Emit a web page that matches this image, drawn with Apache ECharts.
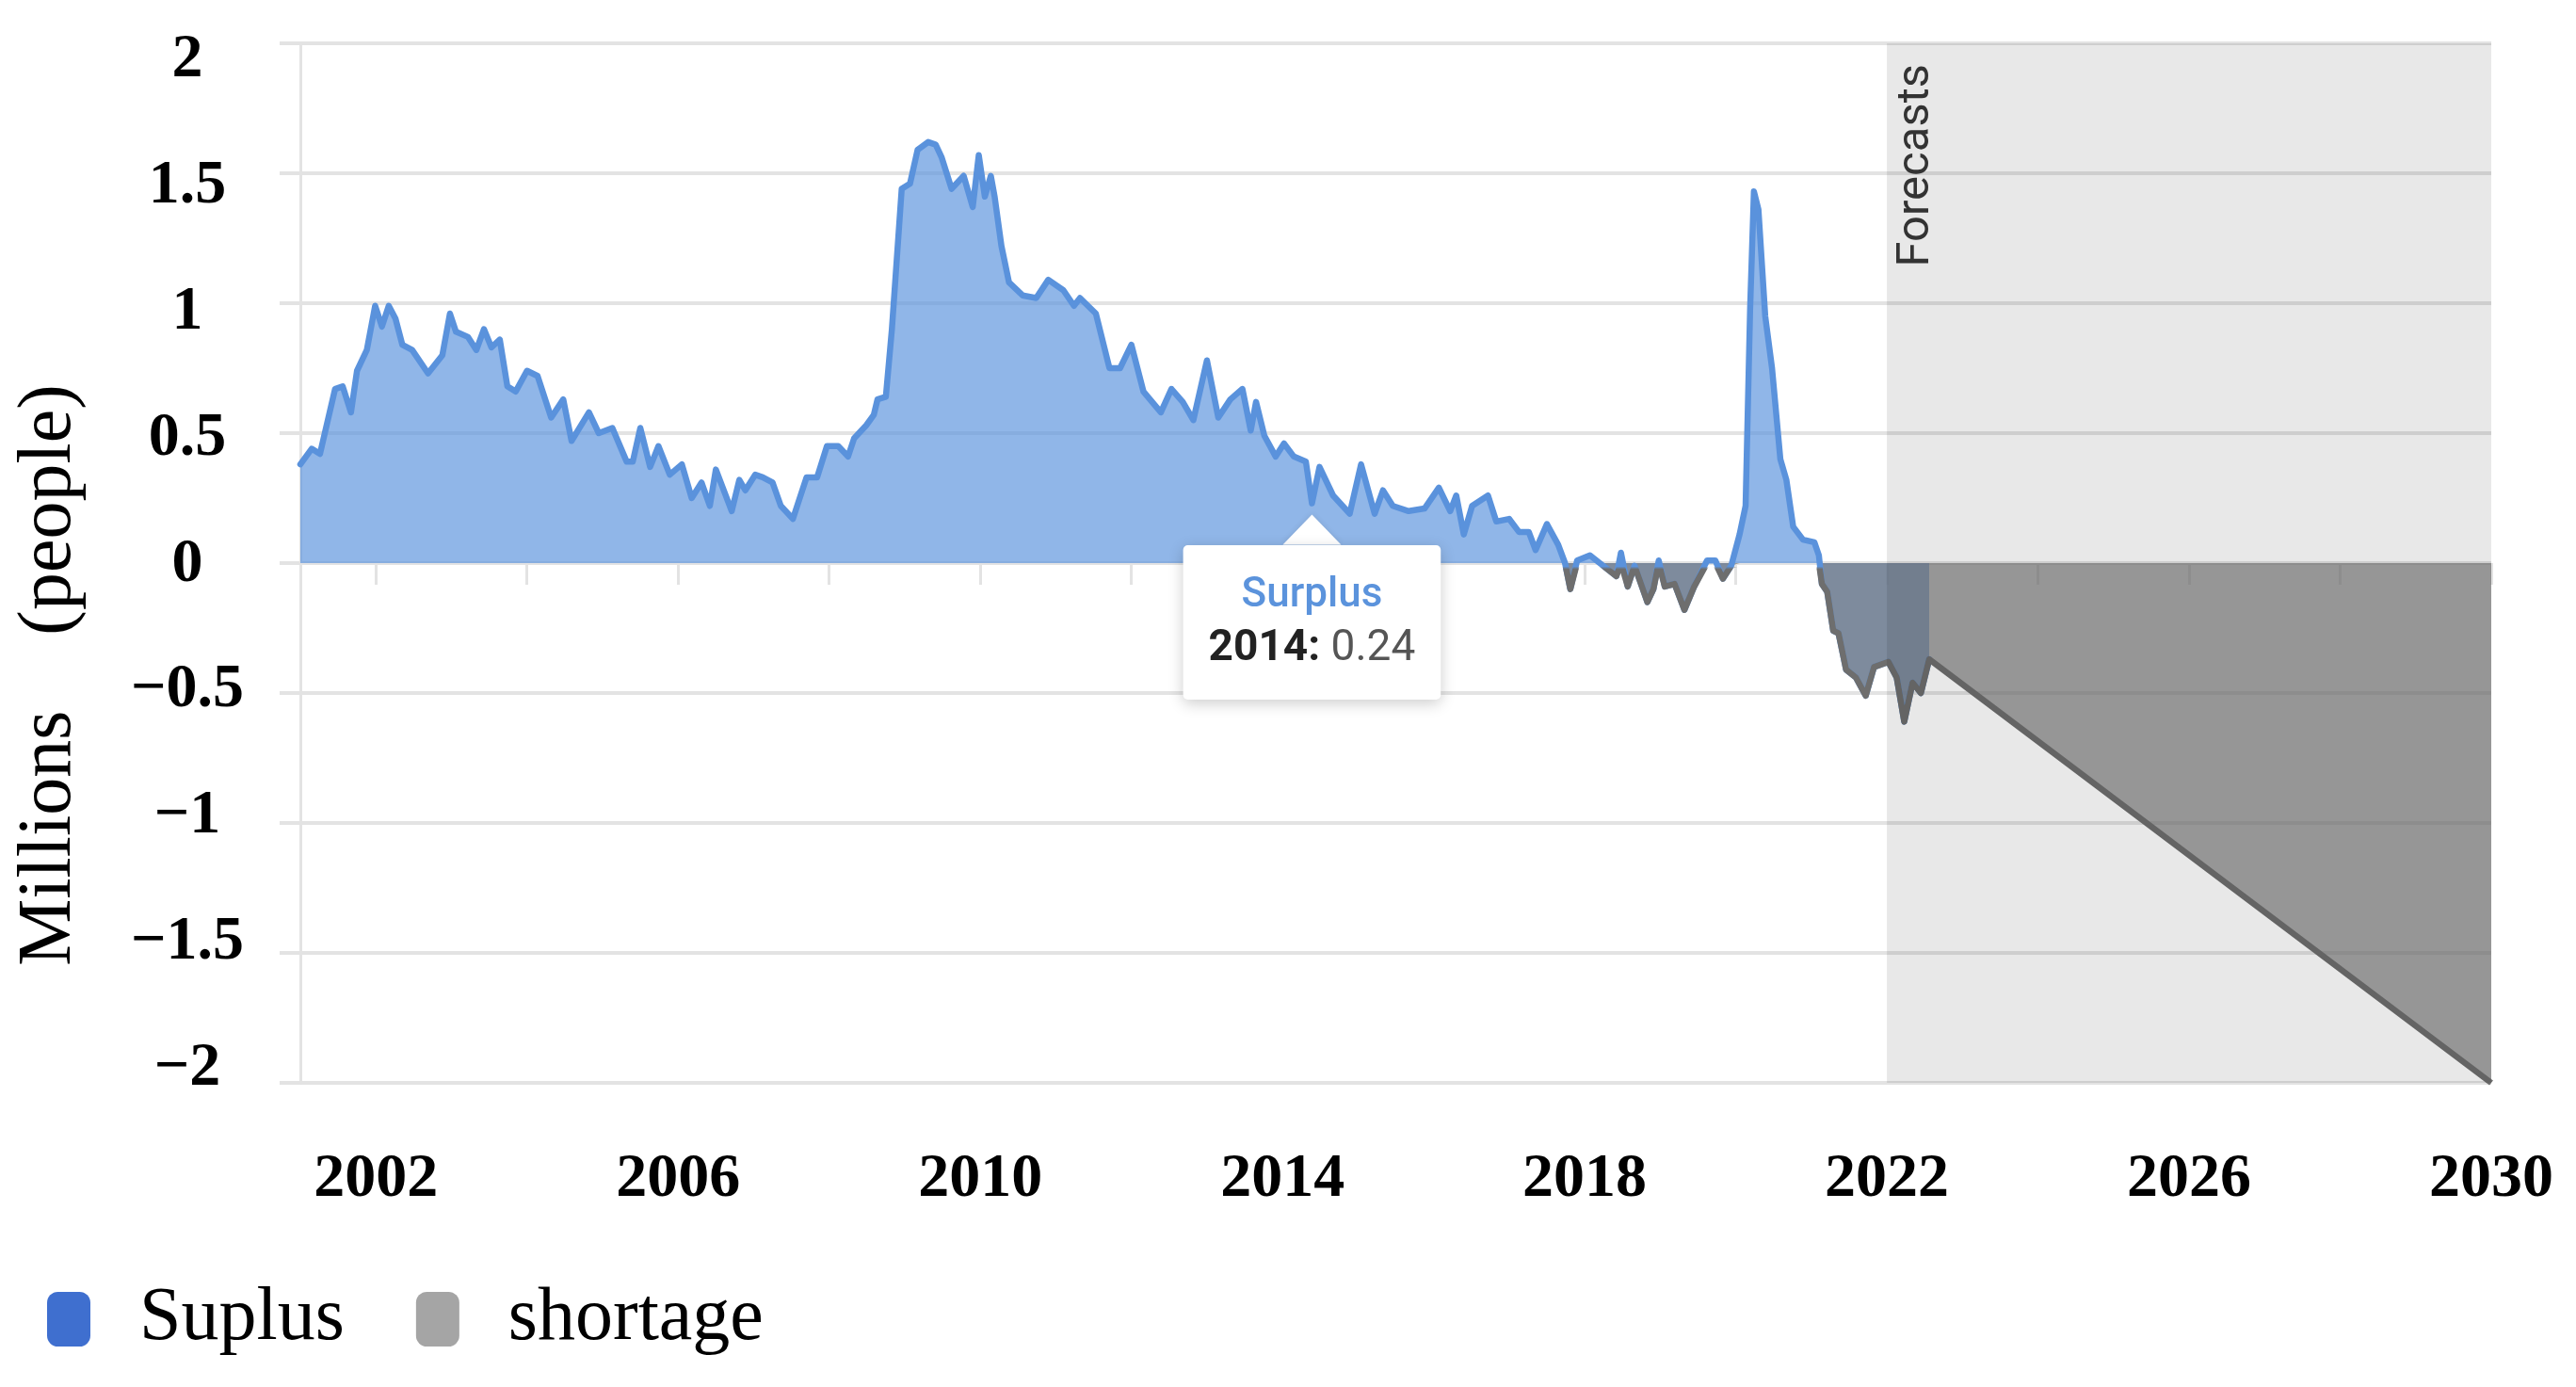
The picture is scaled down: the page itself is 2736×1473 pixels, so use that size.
<!DOCTYPE html>
<html>
<head>
<meta charset="utf-8">
<script src="https://cdn.jsdelivr.net/npm/echarts@6/dist/echarts.min.js"></script>
<style>
html,body{margin:0;padding:0;background:#ffffff;}
#chart{width:2736px;height:1473px;}
</style>
</head>
<body>
<div id="chart"></div>
<script>
// ---------- DATA ----------
const years = [
  2001.00,2001.15,2001.26,2001.46,2001.56,2001.67,2001.75,2001.88,2001.99,2002.08,
  2002.17,2002.26,2002.35,2002.48,2002.69,2002.88,2002.98,2003.06,2003.22,2003.33,
  2003.43,2003.53,2003.64,2003.74,2003.85,2004.00,2004.14,2004.32,2004.48,2004.59,
  2004.82,2004.95,2005.13,2005.32,2005.40,2005.50,2005.63,2005.74,2005.89,2006.05,
  2006.18,2006.31,2006.42,2006.50,2006.71,2006.81,2006.89,2007.02,2007.12,2007.25,
  2007.36,2007.52,2007.70,2007.84,2007.97,2008.12,2008.25,2008.33,2008.49,2008.59,
  2008.64,2008.75,2008.83,2008.96,2009.07,2009.17,2009.31,2009.41,2009.49,2009.62,
  2009.78,2009.90,2009.98,2010.06,2010.14,2010.19,2010.28,2010.38,2010.56,2010.74,
  2010.90,2011.10,2011.24,2011.32,2011.53,2011.71,2011.85,2012.00,2012.16,2012.39,
  2012.53,2012.68,2012.82,2013.00,2013.15,2013.31,2013.47,2013.58,2013.65,2013.76,
  2013.91,2014.02,2014.15,2014.31,2014.39,2014.49,2014.67,2014.89,2015.04,2015.22,
  2015.33,2015.46,2015.67,2015.88,2016.07,2016.22,2016.30,2016.40,2016.51,2016.72,
  2016.83,2017.00,2017.13,2017.26,2017.35,2017.50,2017.65,2017.74,2017.81,2017.90,
  2018.07,2018.20,2018.33,2018.42,2018.48,2018.57,2018.66,2018.83,2018.91,2018.98,
  2019.06,2019.19,2019.32,2019.45,2019.62,2019.73,2019.83,2019.94,2020.05,2020.13,
  2020.19,2020.24,2020.30,2020.39,2020.48,2020.59,2020.67,2020.76,2020.89,2021.04,
  2021.10,2021.14,2021.21,2021.29,2021.36,2021.46,2021.59,2021.72,2021.83,2022.02,
  2022.13,2022.23,2022.34,2022.45,2022.56
];
const values = [
  0.38,0.44,0.42,0.67,0.68,0.58,0.74,0.82,0.99,0.91,
  0.99,0.94,0.84,0.82,0.73,0.80,0.96,0.89,0.87,0.82,
  0.90,0.83,0.86,0.68,0.66,0.74,0.72,0.56,0.63,0.47,
  0.58,0.50,0.52,0.39,0.39,0.52,0.37,0.45,0.34,0.38,
  0.25,0.31,0.22,0.36,0.20,0.32,0.28,0.34,0.33,0.31,
  0.22,0.17,0.33,0.33,0.45,0.45,0.41,0.48,0.53,0.57,
  0.63,0.64,0.90,1.44,1.46,1.59,1.62,1.61,1.56,1.44,
  1.49,1.37,1.57,1.41,1.49,1.41,1.22,1.08,1.03,1.02,
  1.09,1.05,0.99,1.02,0.96,0.75,0.75,0.84,0.66,0.58,
  0.67,0.62,0.55,0.78,0.56,0.63,0.67,0.51,0.62,0.49,
  0.41,0.46,0.41,0.39,0.23,0.37,0.26,0.19,0.38,0.19,
  0.28,0.22,0.20,0.21,0.29,0.20,0.26,0.11,0.22,0.26,
  0.16,0.17,0.12,0.12,0.05,0.15,0.07,0.00,-0.10,0.01,
  0.03,0.00,-0.03,-0.05,0.04,-0.09,-0.01,-0.15,-0.10,0.01,
  -0.09,-0.08,-0.18,-0.09,0.01,0.01,-0.06,-0.01,0.11,0.22,
  0.98,1.43,1.36,0.95,0.75,0.40,0.32,0.14,0.09,0.08,
  0.03,-0.08,-0.11,-0.26,-0.27,-0.41,-0.44,-0.51,-0.40,-0.38,
  -0.44,-0.61,-0.46,-0.50,-0.37
];
const forecastYears = [2022.56, 2030];
const forecastValues = [-0.37, -2.0];
const shortageFromYear = 2017.6;

const forecastStart = 2022;
const forecastEnd = 2030;

const xTickYears = [2002,2004,2006,2008,2010,2012,2014,2016,2018,2020,2022,2024,2026,2028,2030];
const xLabelYears = [2002,2006,2010,2014,2018,2022,2026,2030];
const yTickValues = [-2,-1.5,-1,-0.5,0,0.5,1,1.5,2];
const yTickLabels = ['\u22122','\u22121.5','\u22121','\u22120.5','0','0.5','1','1.5','2'];

const seriesNames = ['Suplus','shortage'];
const yAxisTitle = 'Millions    (people)';
const bandTitle = 'Forecasts';

const tipSeries = 'Surplus';
const tipYear = 2014;
const tipValue = 0.24;
const tipIndex = years.indexOf(2014.39);

// ---------- BUILD ----------
const surplusData = years.map((y, i) => [y, values[i]]);
const shortageData = years
  .map((y, i) => [y, Math.min(values[i], 0)])
  .filter(d => d[0] >= shortageFromYear)
  .concat(forecastYears.map((y, i) => [y, forecastValues[i]]));

const GRID_C = '#e3e3e3';
const SERIF = '"Liberation Serif", "DejaVu Serif", serif';
const SANS = 'Roboto, "Liberation Sans", sans-serif';
const SHORT_LINE = '#6e6e6e';

const chart = echarts.init(document.getElementById('chart'), null, {renderer: 'canvas'});

const option = {
  animation: false,
  backgroundColor: '#ffffff',
  grid: {left: 319, right: 90, top: 46, bottom: 323, containLabel: false, outerBoundsMode: 'none'},
  xAxis: {
    type: 'value', min: 2001, max: 2030,
    axisLine: {show: false},
    splitLine: {show: false},
    axisTick: {show: true, customValues: xTickYears, length: 23, lineStyle: {color: GRID_C, width: 3}},
    axisLabel: {
      customValues: xLabelYears, margin: 70,
      fontFamily: SERIF, fontWeight: 'bold', fontSize: 66, color: '#000',
      formatter: v => String(v)
    }
  },
  yAxis: [
    {
      type: 'value', min: -2, max: 2, interval: 0.5,
      axisLine: {show: true, lineStyle: {color: GRID_C, width: 3}},
      axisTick: {show: true, length: 22, lineStyle: {color: GRID_C, width: 4}},
      axisLabel: {show: false},
      splitLine: {show: true, lineStyle: {color: GRID_C, width: 4}}
    },
    {
      type: 'value', min: -2.056, max: 2.067, position: 'left',
      axisLine: {show: false}, axisTick: {show: false}, splitLine: {show: false},
      axisLabel: {
        customValues: yTickValues, align: 'center', margin: 120,
        fontFamily: SERIF, fontWeight: 'bold', fontSize: 66, color: '#000',
        formatter: v => {
          const k = yTickValues.findIndex(t => Math.abs(t - v) < 1e-9);
          return k >= 0 ? yTickLabels[k] : String(v);
        }
      }
    }
  ],
  legend: {
    left: 45, top: 1356, itemWidth: 46, itemHeight: 58, itemGap: 76,
    icon: 'roundRect',
    textStyle: {fontFamily: SERIF, fontSize: 80, color: '#000', padding: [0, 0, 0, 47]},
    data: [
      {name: seriesNames[0], itemStyle: {color: '#3f6fcf', borderWidth: 0}},
      {name: seriesNames[1], itemStyle: {color: '#a5a5a5', borderWidth: 0}}
    ]
  },
  series: [
    {
      name: seriesNames[0], type: 'line', yAxisIndex: 0,
      data: surplusData, symbol: 'none', showSymbol: false, z: 2,
      lineStyle: {color: '#5a92dc', width: 6.5, join: 'round', cap: 'round'},
      itemStyle: {color: '#5a92dc'},
      areaStyle: {color: '#5a92dc', opacity: 0.67},
      markArea: {
        silent: true, z: 3,
        itemStyle: {color: 'rgba(0,0,0,0.09)'},
        label: {show: false},
        data: [[{xAxis: forecastStart}, {xAxis: forecastEnd}]]
      }
    },
    {
      name: seriesNames[1], type: 'line', yAxisIndex: 0,
      data: shortageData, symbol: 'none', showSymbol: false, z: 2,
      lineStyle: {width: 6.5, color: SHORT_LINE, join: 'round'},
      itemStyle: {color: '#a5a5a5'},
      areaStyle: {color: 'rgb(117,117,117)', opacity: 0.65},
      markPoint: {
        silent: true, z: 20,
        data: [
          {
            coord: [years[tipIndex], values[tipIndex]],
            symbol: 'triangle', symbolSize: [62, 32], symbolOffset: [0, 28],
            itemStyle: {color: '#ffffff', shadowBlur: 6, shadowColor: 'rgba(0,0,0,0.10)'},
            label: {show: false}
          },
          {
            coord: [years[tipIndex], values[tipIndex]],
            symbol: 'rect', symbolSize: [1, 1],
            itemStyle: {color: 'rgba(0,0,0,0)'},
            label: {
              show: true, position: 'bottom', distance: 44,
              backgroundColor: '#ffffff', borderRadius: 5,
              padding: [26, 27, 26, 27],
              shadowBlur: 16, shadowOffsetY: 4, shadowColor: 'rgba(0,0,0,0.20)',
              formatter: '{s|' + tipSeries + '}\n{b|' + tipYear + ':}{v| ' + tipValue.toFixed(2) + '}',
              rich: {
                s: {color: '#5b93dc', fontFamily: SANS, fontWeight: 500, fontSize: 44, lineHeight: 56},
                b: {color: '#222222', fontFamily: SANS, fontWeight: 'bold', fontSize: 46, lineHeight: 56},
                v: {color: '#555555', fontFamily: SANS, fontWeight: 'normal', fontSize: 46, lineHeight: 56}
              }
            }
          }
        ]
      }
    }
  ]
};

chart.setOption(option);

// Hide the shortage outline where it sits on the zero line (only show it below zero)
const zeroPx = chart.convertToPixel({xAxisIndex: 0, yAxisIndex: 0}, [forecastStart, 0])[1];
const corner = chart.convertToPixel({xAxisIndex: 0, yAxisIndex: 0}, [forecastStart, 2]);
chart.setOption({
  series: [
    {},
    {
      lineStyle: {
        color: {
          type: 'linear', x: 0, y: zeroPx + 3.5, x2: 0, y2: zeroPx + 6.5, global: true,
          colorStops: [
            {offset: 0, color: 'rgba(110,110,110,0)'},
            {offset: 1, color: SHORT_LINE}
          ]
        }
      }
    }
  ],
  graphic: [
    {
      type: 'text', z: 100, x: corner[0] + 32, y: corner[1] + 22, rotation: Math.PI / 2,
      style: {text: bandTitle, fontFamily: SANS, fontSize: 49, fill: '#333333', align: 'right', verticalAlign: 'middle'}
    },
    {
      type: 'text', z: 100, x: 53, y: 717, rotation: Math.PI / 2,
      style: {text: yAxisTitle, fontFamily: SERIF, fontSize: 80, fill: '#000000', align: 'center', verticalAlign: 'middle'}
    }
  ]
});
</script>
</body>
</html>
